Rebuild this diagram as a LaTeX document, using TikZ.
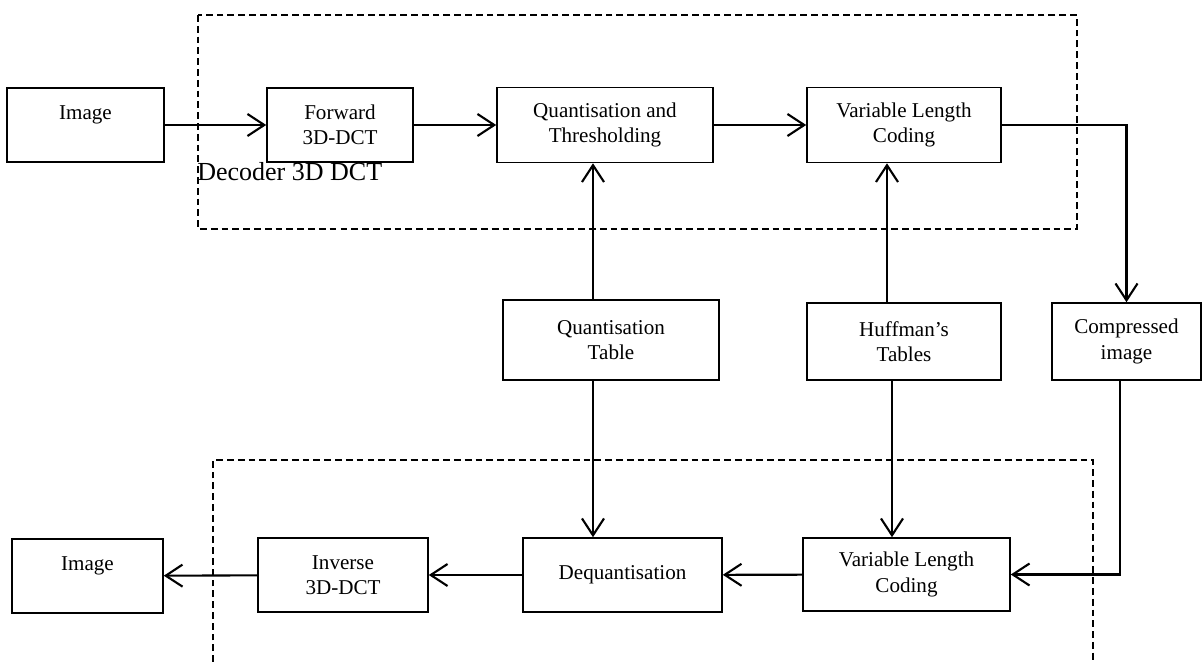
\documentclass[tikz,border=0pt]{standalone}
\usepackage{fontspec}
\setmainfont{Liberation Serif}
\usepackage{tikz}
\usetikzlibrary{arrows.meta,calc}
\tikzset{block/.style={draw,line width=1.1pt,align=center,inner sep=0pt,font=\fontsize{15}{18}\selectfont}}
\tikzset{flow/.style={line width=1.5pt,-{Straight Barb[length=0.42cm,width=0.55cm,line width=1.5pt]}}}
\tikzset{frame/.style={line width=1pt,dash pattern=on 0.17cm off 0.1cm}}

\begin{document}
\begin{tikzpicture}[x=0.025cm,y=-0.025cm]
	\useasboundingbox (0,0) rectangle (1203,662);
	% encoder and decoder frames
	\draw[frame] (198,15) rectangle (1077,229);
	\draw[frame] (213,662) -- (213,460) -- (1093,460) -- (1093,662);
	\node[anchor=base west,inner sep=0pt,font=\fontsize{18.5}{22}\selectfont] (declabel) at (197,181) {Decoder 3D DCT};

	\node[block,minimum width=3.925cm,minimum height=1.85cm] (img1) at (85.5,125) {Image\\ \mbox{}};
	\node[block,minimum width=3.65cm,minimum height=1.85cm] (fwd) at (340,125) {Forward\\3D-DCT};
	\node[block,minimum width=5.4cm,minimum height=1.875cm] (quant) at (605,125) {Quantisation and\\Thresholding};
	\node[block,minimum width=4.85cm,minimum height=1.875cm] (vlc1) at (904,125) {Variable Length\\Coding};

	\node[block,minimum width=5.4cm,minimum height=2cm] (qtab) at (611,340) {Quantisation\\Table};
	\node[block,minimum width=4.85cm,minimum height=1.925cm] (huff) at (904,341.5) {Huffman’s\\Tables};
	\node[block,minimum width=3.725cm,minimum height=1.925cm] (comp) at (1126.5,341.5) {Compressed\\image};

	\node[block,minimum width=3.775cm,minimum height=1.85cm] (img2) at (87.5,576) {Image\\ \mbox{}};
	\node[block,minimum width=4.25cm,minimum height=1.85cm] (inv) at (343,575) {Inverse\\3D-DCT};
	\node[block,minimum width=4.975cm,minimum height=1.85cm] (deq) at (622.5,575) {Dequantisation};
	\node[block,minimum width=5.175cm,minimum height=1.825cm] (vlc2) at (906.5,574.5) {Variable Length\\Coding};

	\coordinate (qup) at ([xshift=-0.45cm]qtab.north);
	\coordinate (qdown) at ([xshift=-0.45cm]qtab.south);
	\coordinate (hup) at ([xshift=-0.425cm]huff.north);
	\coordinate (hdown) at ([xshift=-0.3cm]huff.south);
	\coordinate (cdown) at ([xshift=-0.16cm]comp.south);

	\draw[flow] (img1) -- (fwd);
	\draw[flow] (fwd) -- (quant);
	\draw[flow] (quant) -- (vlc1);
	\draw[flow] (vlc1.east) -| (comp.north);
	\draw[flow] (qup) -- (qup |- quant.south);
	\draw[flow] (hup) -- (hup |- vlc1.south);
	\draw[flow] (qdown) -- (qdown |- deq.north);
	\draw[flow] (hdown) -- (hdown |- vlc2.north);
	\draw[flow] (cdown) |- (vlc2.east);
	\draw[flow] (vlc2) -- (deq);
	\draw[flow] (deq) -- (inv);
	\draw[flow] (inv) -- (img2);
\end{tikzpicture}
\end{document}
